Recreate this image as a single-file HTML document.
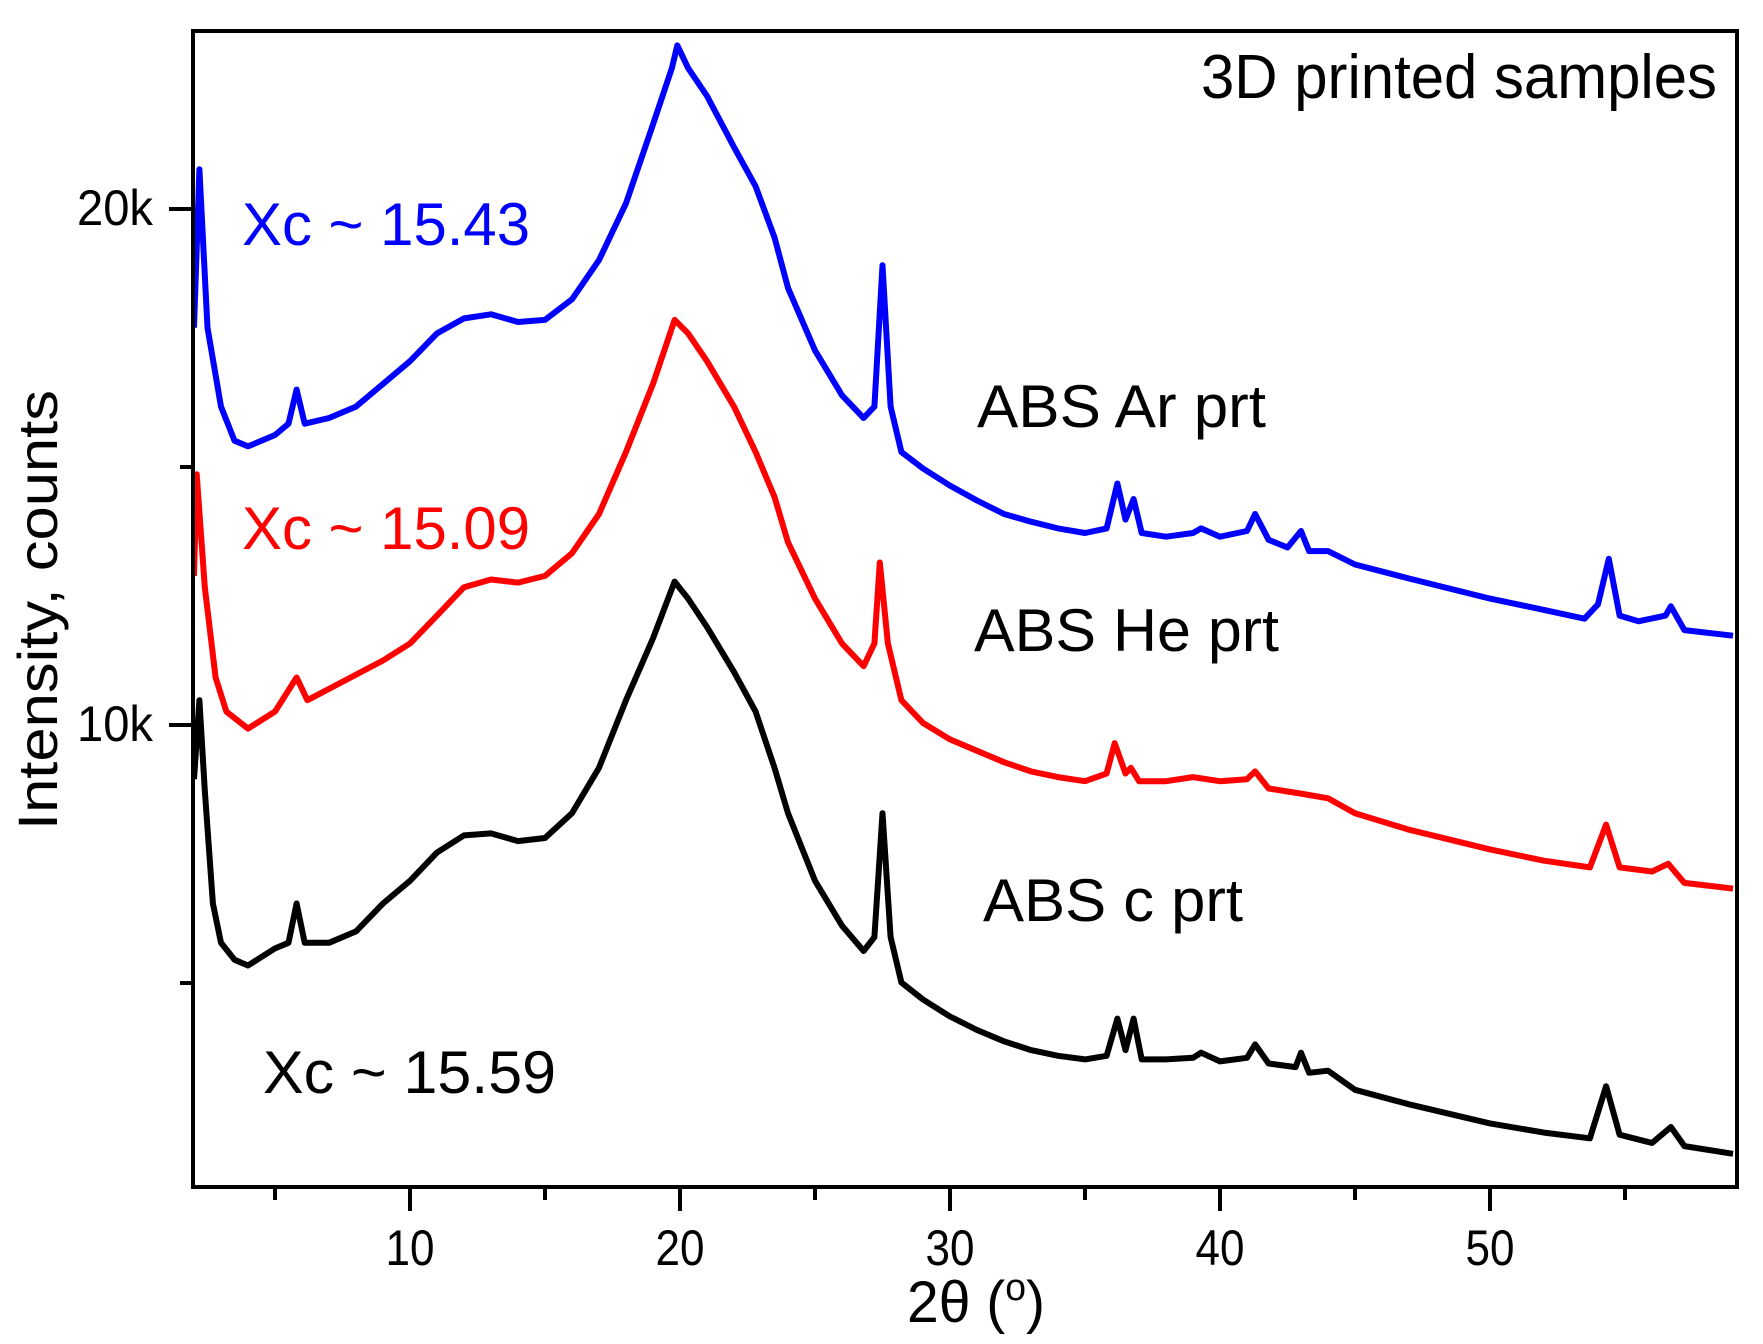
<!DOCTYPE html>
<html><head><meta charset="utf-8"><style>
html,body{margin:0;padding:0;background:#fff;}
svg{display:block;font-family:"Liberation Sans",Arial,sans-serif;}
</style></head><body>
<svg id="chart" width="1763" height="1344" viewBox="0 0 1763 1344" xmlns="http://www.w3.org/2000/svg">
<rect x="0" y="0" width="1763" height="1344" fill="#fff"/>
<g id="curves"></g>
<g id="axes"></g>
<rect x="193" y="31" width="1544" height="1156" fill="none" stroke="#000" stroke-width="4"/>
<text x="1717" y="98" font-size="62" text-anchor="end" textLength="516" lengthAdjust="spacingAndGlyphs">3D printed samples</text>
<text x="242" y="245" font-size="60" fill="#0000ff" textLength="288" lengthAdjust="spacingAndGlyphs">Xc ~ 15.43</text>
<text x="242" y="549" font-size="60" fill="#ff0000" textLength="288" lengthAdjust="spacingAndGlyphs">Xc ~ 15.09</text>
<text x="263" y="1093" font-size="60" fill="#000" textLength="293" lengthAdjust="spacingAndGlyphs">Xc ~ 15.59</text>
<text x="977" y="427" font-size="60" textLength="289" lengthAdjust="spacingAndGlyphs">ABS Ar prt</text>
<text x="974" y="651" font-size="60" textLength="305" lengthAdjust="spacingAndGlyphs">ABS He prt</text>
<text x="983" y="921" font-size="60" textLength="260" lengthAdjust="spacingAndGlyphs">ABS c prt</text>
<text x="907" y="1322" font-size="58" textLength="138" lengthAdjust="spacingAndGlyphs">2θ (<tspan font-size="38" dy="-22">o</tspan><tspan dy="22">)</tspan></text>
<text transform="translate(57,830) rotate(-90)" x="0" y="0" font-size="56" textLength="440" lengthAdjust="spacingAndGlyphs">Intensity, counts</text>
</svg>
<script>
const blueX=[2.0,2.2,2.5,3,3.5,4,5,5.5,5.8,6.1,7,8,9,10,11,12,13,14,15,16,17,18,19,19.7,19.9,20.3,21,22,22.8,23.5,24,25,26,26.8,27.2,27.5,27.8,28.2,29,30,31,32,33,34,35,35.8,36.2,36.5,36.8,37.1,38,39,39.3,40,41,41.3,41.8,42.5,43,43.3,44,45,47,50,52,53.5,54,54.4,54.8,55.5,56.5,56.7,57.2,58,59];
const blueY=[17.70,20.77,17.70,16.17,15.51,15.40,15.62,15.84,16.50,15.84,15.95,16.17,16.61,17.05,17.59,17.88,17.96,17.81,17.85,18.25,19.01,20.11,21.64,22.73,23.17,22.73,22.19,21.20,20.44,19.45,18.47,17.26,16.39,15.95,16.17,18.91,16.17,15.29,14.97,14.64,14.35,14.09,13.94,13.81,13.72,13.81,14.68,13.98,14.38,13.72,13.65,13.72,13.81,13.65,13.76,14.09,13.59,13.44,13.76,13.37,13.37,13.11,12.84,12.45,12.23,12.06,12.34,13.22,12.12,12.01,12.12,12.30,11.84,11.79,11.73];
const redX=[2.0,2.1,2.4,2.8,3.2,4,5,5.8,6.2,7,9,10,11,12,13,14,15,16,17,18,19,19.8,20.3,21,22,22.8,23.5,24,25,26,26.8,27.2,27.4,27.7,28.2,29,30,31,32,33,34,35,35.8,36.1,36.5,36.7,37,38,39,40,41,41.3,41.8,43,44,45,47,50,52,53.7,54.3,54.8,56,56.6,57.2,59];
const redY=[12.89,14.86,12.67,10.92,10.26,9.93,10.26,10.92,10.48,10.70,11.25,11.58,12.12,12.67,12.82,12.76,12.89,13.33,14.09,15.29,16.61,17.85,17.59,17.05,16.17,15.29,14.42,13.54,12.45,11.58,11.14,11.58,13.15,11.58,10.48,10.04,9.72,9.50,9.28,9.10,8.99,8.91,9.06,9.65,9.06,9.17,8.91,8.91,8.99,8.91,8.95,9.10,8.77,8.67,8.58,8.29,7.97,7.59,7.37,7.24,8.07,7.24,7.16,7.31,6.94,6.83];
const blackX=[2.0,2.2,2.4,2.7,3,3.5,4,5,5.5,5.8,6.1,7,8,9,10,11,12,13,14,15,16,17,18,19,19.8,20.3,21,22,22.8,23.5,24,25,26,26.8,27.2,27.5,27.8,28.2,29,30,31,32,33,34,35,35.8,36.2,36.5,36.8,37.1,38,39,39.3,40,41,41.3,41.8,42.8,43,43.3,44,45,47,50,52,53.7,54.3,54.8,56,56.7,57.2,59];
const blackY=[8.95,10.48,8.73,6.54,5.78,5.45,5.34,5.67,5.78,6.54,5.78,5.78,6.00,6.54,6.98,7.53,7.86,7.90,7.75,7.81,8.29,9.17,10.48,11.68,12.78,12.45,11.90,11.03,10.26,9.17,8.29,6.98,6.11,5.62,5.89,8.29,5.89,5.01,4.68,4.35,4.09,3.87,3.70,3.59,3.52,3.59,4.31,3.70,4.31,3.52,3.52,3.55,3.65,3.48,3.55,3.81,3.44,3.37,3.65,3.26,3.30,2.93,2.65,2.28,2.10,1.99,3.00,2.06,1.90,2.21,1.84,1.69];
const xTickVals=[10,20,30,40,50];
const xTickLabels=["10","20","30","40","50"];
const xMinorVals=[5,15,25,35,45,55];
const yTickVals=[10,20];
const yTickLabels=["10k","20k"];
const yMinorVals=[5,15];

const NS="http://www.w3.org/2000/svg";
function sx(v){return 140+(v-0)*27.0;}
function sy(k){return 725-(k-10)*51.6;}
function el(tag,attrs,parent){const e=document.createElementNS(NS,tag);for(const k in attrs)e.setAttribute(k,attrs[k]);parent.appendChild(e);return e;}
const curves=document.getElementById('curves');
const axes=document.getElementById('axes');
function drawSeries(xs,ys,color,name){
  const d=xs.map((x,i)=>(i?'L':'M')+sx(x).toFixed(1)+','+sy(ys[i]).toFixed(1)).join(' ');
  const p=el('path',{d:d,fill:'none',stroke:color,'stroke-width':6,'stroke-linejoin':'round'},curves);
  
  
}
drawSeries(blackX,blackY,'#000000','series-abs-c-prt');
drawSeries(redX,redY,'#ff0000','series-abs-he-prt');
drawSeries(blueX,blueY,'#0000ff','series-abs-ar-prt');
xTickVals.forEach((v,i)=>{
  const t=el('line',{x1:sx(v),x2:sx(v),y1:1187,y2:1211,stroke:'#000','stroke-width':4},axes);
  
  
  const l=el('text',{x:sx(v),y:1265,'font-size':50,'text-anchor':'middle',textLength:49,lengthAdjust:'spacingAndGlyphs'},axes);
  l.textContent=xTickLabels[i];
  
  
});
xMinorVals.forEach(v=>{
  const t=el('line',{x1:sx(v),x2:sx(v),y1:1187,y2:1200,stroke:'#000','stroke-width':4},axes);
  
  
});
yTickVals.forEach((v,i)=>{
  const t=el('line',{x1:169,x2:193,y1:sy(v),y2:sy(v),stroke:'#000','stroke-width':4},axes);
  
  
  const l=el('text',{x:153,y:sy(v)+16,'font-size':50,'text-anchor':'end',textLength:76,lengthAdjust:'spacingAndGlyphs'},axes);
  l.textContent=yTickLabels[i];
  
  
});
yMinorVals.forEach(v=>{
  const t=el('line',{x1:180,x2:193,y1:sy(v),y2:sy(v),stroke:'#000','stroke-width':4},axes);
  
  
});
</script>
</body></html>
